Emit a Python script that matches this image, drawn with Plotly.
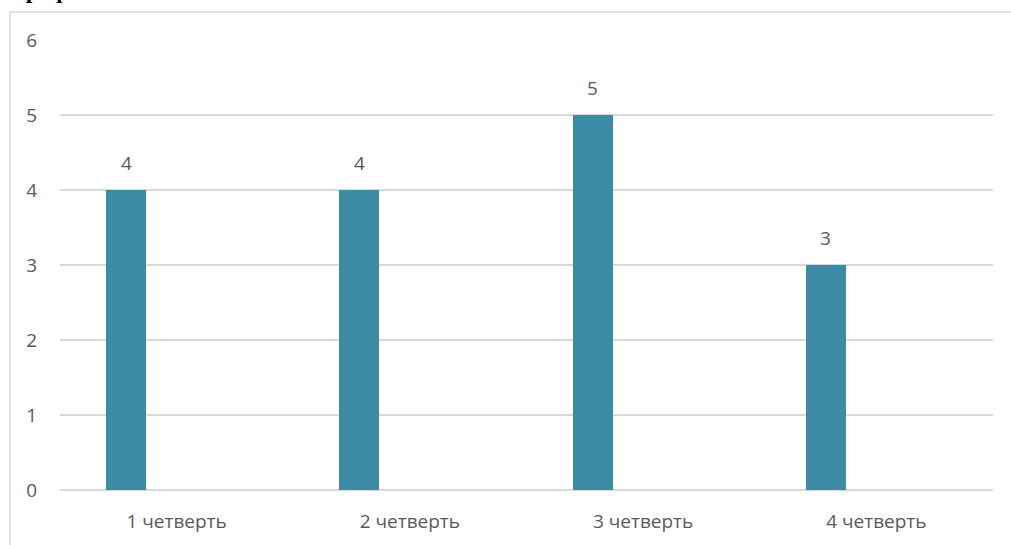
import plotly.graph_objects as go

categories = ["1 четверть", "2 четверть", "3 четверть", "4 четверть"]
values = [4, 4, 5, 3]
y_ticks = [0, 1, 2, 3, 4, 5, 6]

W, H = 1011, 545
L, R, T, B = 60, 18, 40, 55
pw, ph = W - L - R, H - T - B

def px_x(p):
    return (p - L) / pw

def px_y(p):
    return (H - B - p) / ph

bar_color = "#3C8CA6"
grid_color = "#D9D9D9"
text_color = "#595959"
font_family = "Open Sans, Noto Sans, sans-serif"

fig = go.Figure()
fig.add_trace(go.Bar(
    x=categories, y=values,
    width=0.1715, offset=-0.3027,
    marker=dict(color=bar_color, line=dict(width=0)),
    showlegend=False, hoverinfo="skip",
))

for c, v in zip(categories, values):
    fig.add_annotation(
        x=c, y=v, xref="x", yref="y", text=str(v), showarrow=False,
        xshift=-50.5, yshift=27, yanchor="middle",
        font=dict(family=font_family, size=19, color=text_color),
    )

# cropped heading at the very top (only the descenders show, as in the reference)
fig.add_annotation(
    x=px_x(10), y=px_y(5), xref="paper", yref="paper", xanchor="left", yanchor="bottom",
    text="<b>График</b>", showarrow=False,
    font=dict(family="Liberation Serif, serif", size=24, color="#000000"),
)

# chart area border
fig.add_shape(type="rect", xref="paper", yref="paper",
              x0=px_x(10), x1=px_x(1020), y0=px_y(560), y1=px_y(12),
              line=dict(color=grid_color, width=1.5), fillcolor="rgba(0,0,0,0)", layer="below")

fig.update_layout(
    width=W, height=H,
    margin=dict(l=L, r=R, t=T, b=B, pad=0),
    paper_bgcolor="white", plot_bgcolor="white",
    bargap=0, bargroupgap=0,
    xaxis=dict(
        type="category", showgrid=False, showline=False, zeroline=False,
        ticks="", ticklabelstandoff=18,
        tickfont=dict(family=font_family, size=19, color=text_color),
    ),
    yaxis=dict(
        range=[0, 6], tickvals=y_ticks, showgrid=True, gridcolor=grid_color, gridwidth=1.5,
        zeroline=True, zerolinecolor=grid_color, zerolinewidth=1.5,
        showline=False, ticks="", ticklabelstandoff=22,
        tickfont=dict(family=font_family, size=19, color=text_color),
    ),
)

fig.write_html("out.html", config={"displayModeBar": False},
               post_script="document.body.style.margin='0';")
